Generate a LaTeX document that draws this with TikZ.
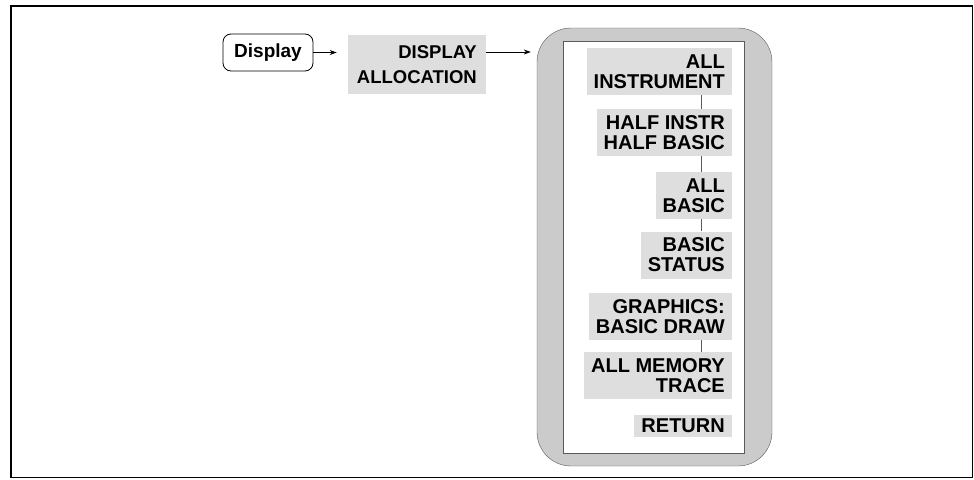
\documentclass[tikz,border=0pt]{standalone}
\usepackage{fontspec}
\setsansfont{Liberation Sans}
\usepackage{tikz}
\usetikzlibrary{arrows.meta,positioning}
\definecolor{keyfill}{HTML}{DEDEDE}
\definecolor{bandfill}{HTML}{CBCBCB}
\definecolor{rimgrey}{HTML}{5A5A5A}

\begin{document}
\begin{tikzpicture}[
  x=1pt, y=-1pt,
  font=\sffamily\bfseries,
  softkey/.style={fill=keyfill, inner xsep=7pt, inner ysep=2pt, align=right, anchor=east,
                  minimum height=47pt, font=\sffamily\bfseries\fontsize{20}{20}\selectfont},
  hardkey/.style={draw, rounded corners=8pt, line width=0.8pt, minimum width=90pt,
                  minimum height=37pt, font=\sffamily\bfseries\fontsize{19}{19}\selectfont},
  feed/.style={-{Stealth[length=7pt,width=5pt]}, line width=0.8pt},
  tie/.style={rimgrey, line width=0.8pt},
]
\useasboundingbox (0,0) rectangle (974,479);
\draw[line width=1.6pt] (11,6) rectangle (972.5,477.5);
% menu panel
\node[draw=rimgrey, fill=bandfill, rounded corners=34pt, minimum width=235pt,
      minimum height=438pt, inner sep=0pt] (panel) at (654.5,247) {};
\node[draw=rimgrey, fill=white, line width=0.8pt, minimum width=181pt,
      minimum height=412pt, inner sep=0pt] (menu) at (653.5,247) {};
\coordinate (spine) at (701,0);
% keys
\node[hardkey] (display) at (268,52.5) {Display};
\node[softkey, minimum height=59pt, inner xsep=9pt,
      font=\sffamily\bfseries\fontsize{18.5}{25}\selectfont]
   (alloc) at (486,64.5) {DISPLAY\\ALLOCATION};
\node[softkey] (k1) at (732,71.5)  {ALL\\INSTRUMENT};
\node[softkey] (k2) at (732,132.5) {HALF INSTR\\HALF BASIC};
\node[softkey] (k3) at (732,195.5) {ALL\\BASIC};
\node[softkey] (k4) at (732,255)   {BASIC\\STATUS};
\node[softkey] (k5) at (732,316.5) {GRAPHICS:\\BASIC DRAW};
\node[softkey] (k6) at (732,375.5) {ALL MEMORY\\TRACE};
\node[softkey, minimum height=22pt] (k7) at (732,426) {RETURN};
% connectors
\draw[feed, shorten >=11pt] (display.east) -- (display.east -| alloc.west);
\draw[feed, shorten >=6pt] ([yshift=12.5pt]alloc.east) -- ([yshift=12.5pt]alloc.east -| panel.west);
\draw[tie] (k1.south -| spine) -- (k2.north -| spine);
\draw[tie] (k2.south -| spine) -- (k3.north -| spine);
\draw[tie] (k3.south -| spine) -- (k4.north -| spine);
\draw[tie] (k5.south -| spine) -- (k6.north -| spine);
\end{tikzpicture}
\end{document}
